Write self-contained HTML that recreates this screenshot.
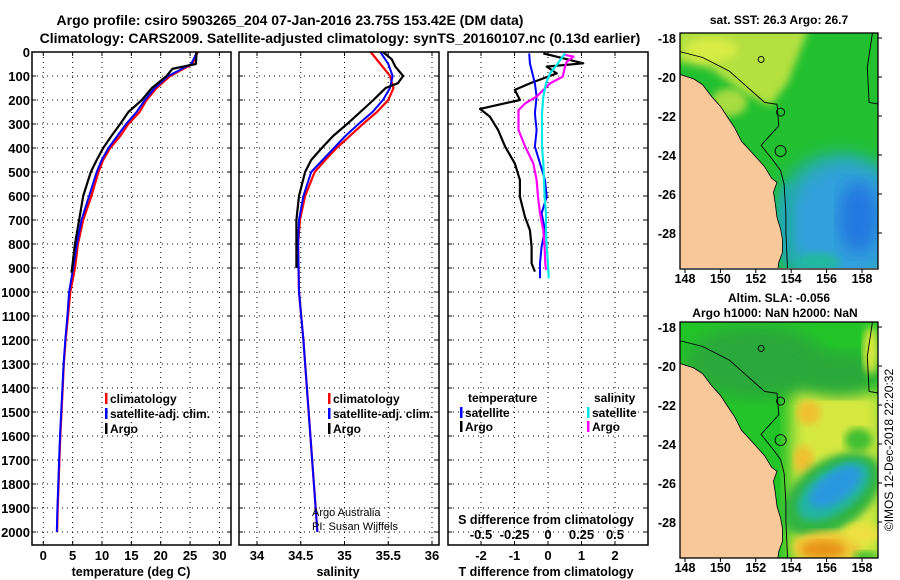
<!DOCTYPE html>
<html><head><meta charset="utf-8"><style>
body{margin:0;background:#fff}
svg{display:block}
text{font-family:"Liberation Sans",Arial,sans-serif;font-weight:bold;fill:#000}
</style></head><body>
<svg id="c" width="900" height="580" viewBox="0 0 900 580" xmlns="http://www.w3.org/2000/svg">
<defs>
<filter id="blur4"><feGaussianBlur stdDeviation="4"/></filter>
<filter id="blur8"><feGaussianBlur stdDeviation="8"/></filter>
<clipPath id="m1clip"><rect x="680" y="33" width="198" height="235"/></clipPath>
<clipPath id="m2clip"><rect x="680" y="322" width="198" height="236"/></clipPath>
</defs>
<text x="290" y="25" text-anchor="middle" font-size="14">Argo profile: csiro 5903265_204 07-Jan-2016 23.75S 153.42E (DM data)</text>
<text x="340" y="43" text-anchor="middle" font-size="14">Climatology: CARS2009. Satellite-adjusted climatology: synTS_20160107.nc (0.13d earlier)</text>
<g id="grid"></g>
<g id="series"></g>
<g id="frames"></g>
<g id="maps"></g>
</svg>
<script>
// ---------- data ----------
const depthTicks=[0,100,200,300,400,500,600,700,800,900,1000,1100,1200,1300,1400,1500,1600,1700,1800,1900,2000];
const tempTicks=[0,5,10,15,20,25,30];
const salTicks=[34,34.5,35,35.5,36];
const salTickLabels=["34","34.5","35","35.5","36"];
const tdiffTicks=[-2,-1,0,1,2];
const sdiffTicks=[-0.5,-0.25,0,0.25,0.5];
const sdiffLabels=["-0.5","-0.25","0","0.25","0.5"];

const argoTDepth=[0,50,70,100,150,200,250,300,350,400,450,500,600,700,800,900,920];
const argoT=[26.1,26,22,21,18.5,16.8,14.5,13.1,11.6,10.2,9.1,8.1,6.8,6.1,5.4,4.9,4.8];
const climTDepth=[0,50,100,150,200,250,300,350,400,450,500,600,700,800,900,1000,1100,1200,1300,1400,1500,1600,1700,1800,1900,2000];
const climT=[26.3,25.4,21.6,19.3,17.6,16.4,14.5,13.1,11.4,10.2,9.4,8.2,6.8,5.9,5.4,4.6,4.2,3.8,3.5,3.3,3.1,2.9,2.75,2.6,2.45,2.35];
const satT=[26.2,25.2,21.3,19,17.3,15.9,14.1,12.6,11.1,9.95,9.1,7.8,6.5,5.7,5.1,4.4,4.1,3.75,3.45,3.25,3.05,2.85,2.7,2.55,2.4,2.3];

const argoSDepth=[0,30,60,100,130,150,200,250,300,350,400,450,500,600,700,800,900];
const argoS=[35.44,35.54,35.58,35.67,35.61,35.47,35.33,35.18,35.03,34.87,34.74,34.62,34.55,34.48,34.45,34.45,34.45];
const climSDepth=[0,50,100,150,200,250,300,350,400,450,500,600,700,800,1000,1200,1400,1600,1800,2000];
const climS=[35.30,35.41,35.52,35.56,35.50,35.37,35.21,35.06,34.91,34.78,34.66,34.55,34.49,34.47,34.48,34.53,34.57,34.61,34.65,34.69];
const satS=[35.41,35.50,35.55,35.52,35.44,35.32,35.16,35.01,34.88,34.75,34.62,34.53,34.48,34.47,34.48,34.53,34.57,34.61,34.65,34.69];

const dTArgoDepth=[6,12,47,61,89,131,158,200,237,270,325,394,464,533,603,686,742,811,881,915];
const dTArgo=[-0.14,0.05,1.05,-0.04,0.26,-0.54,-0.99,-0.84,-2.03,-1.73,-1.49,-1.28,-0.99,-0.84,-0.84,-0.69,-0.54,-0.49,-0.49,-0.39];
const dTSatDepth=[6,47,131,186,256,325,394,464,533,603,672,742,811,881,943];
const dTSat=[-0.56,-0.54,-0.39,-0.34,-0.39,-0.34,-0.39,-0.24,-0.09,-0.04,-0.19,-0.09,-0.19,-0.24,-0.24];
const dSArgoDepth=[12,19,40,61,103,131,186,214,242,283,325,394,464,533,603,672,742,811,881,908];
const dSArgo=[0.127,0.19,0.14,0.127,0.11,0.015,-0.085,-0.17,-0.22,-0.22,-0.22,-0.17,-0.11,-0.085,-0.075,-0.06,-0.035,-0.025,-0.02,-0.015];
const dSSatDepth=[6,47,89,131,186,256,325,394,464,533,603,672,742,811,881,943];
const dSSat=[0.127,0.075,0.015,-0.015,-0.035,-0.045,-0.045,-0.045,-0.035,-0.03,-0.025,-0.015,-0.015,-0.01,0,0.005];

const mapLatTicks=[-18,-20,-22,-24,-26,-28];
const mapLonTicks=[148,150,152,154,156,158];

// ---------- scales ----------
const Y0=52,Y1=545;
const yD=d=>Y0+d*0.24;
const xT=t=>43.3+t*5.87;
const xS=s=>257+(s-34)*87.5;
const xdT=v=>548+v*33.5;
const xdS=v=>548+v*134;
const mX=lon=>685+(lon-148)*17.7;
const mY1=lat=>38+(-18-lat)*19.5;
const mY2=lat=>327+(-18-lat)*19.5;

const NS="http://www.w3.org/2000/svg";
function mk(tag,attrs,parent,txt){const e=document.createElementNS(NS,tag);for(const k in attrs)e.setAttribute(k,attrs[k]);if(txt!==undefined)e.textContent=txt;(parent||document.getElementById('c')).appendChild(e);return e;}
const G=document.getElementById('grid'),S=document.getElementById('series'),F=document.getElementById('frames'),M=document.getElementById('maps');

const panels=[{x0:32,x1:231,name:'temperature'},{x0:239,x1:439,name:'salinity'},{x0:448,x1:648,name:'difference'}];
const dot={stroke:'#000','stroke-width':1,'stroke-dasharray':'1 4'};
panels.forEach(p=>{
  depthTicks.forEach(d=>{if(d>0){const l=mk('line',Object.assign({x1:p.x0,x2:p.x1,y1:yD(d),y2:yD(d)},dot),G);
  
  }});
});
function vgrid(xs,scale){xs.forEach(v=>{const x=scale(v);const l=mk('line',Object.assign({x1:x,x2:x,y1:Y0,y2:Y1},dot),G);


mk('line',{x1:x,x2:x,y1:Y1,y2:Y1-4,stroke:'#000'},G);mk('line',{x1:x,x2:x,y1:Y0,y2:Y0+4,stroke:'#000'},G);});}
vgrid(tempTicks,xT);vgrid(salTicks,xS);vgrid(tdiffTicks,xdT);

depthTicks.forEach(d=>{const t=mk('text',{x:30,y:yD(d)+5,'text-anchor':'end','font-size':13},G,String(d));


panels.forEach(p=>{mk('line',{x1:p.x0,x2:p.x0+4,y1:yD(d),y2:yD(d),stroke:'#000'},G);mk('line',{x1:p.x1,x2:p.x1-4,y1:yD(d),y2:yD(d),stroke:'#000'},G);});});
tempTicks.forEach(v=>{const t=mk('text',{x:xT(v),y:560,'text-anchor':'middle','font-size':13},G,String(v));

});
salTicks.forEach((v,i)=>{const t=mk('text',{x:xS(v),y:560,'text-anchor':'middle','font-size':13},G,salTickLabels[i]);

});
tdiffTicks.forEach(v=>{const t=mk('text',{x:xdT(v),y:560,'text-anchor':'middle','font-size':13},G,String(v));

});
sdiffTicks.forEach((v,i)=>{const t=mk('text',{x:xdS(v),y:539,'text-anchor':'middle','font-size':13},G,sdiffLabels[i]);

});

function line(depths,vals,sx,color,w,name){const pts=depths.map((d,i)=>sx(vals[i]).toFixed(1)+','+yD(d).toFixed(1)).join(' ');
const l=mk('polyline',{points:pts,fill:'none',stroke:color,'stroke-width':w,'stroke-linejoin':'round'},S);

}
line(climTDepth,climT,xT,'#ff0000',2.2,'temperature-climatology-line');
line(climTDepth,satT,xT,'#0000ff',2,'temperature-satellite-line');
line(argoTDepth,argoT,xT,'#000',2.2,'temperature-argo-line');
line(climSDepth,climS,xS,'#ff0000',2.2,'salinity-climatology-line');
line(climSDepth,satS,xS,'#0000ff',2,'salinity-satellite-line');
line(argoSDepth,argoS,xS,'#000',2.2,'salinity-argo-line');
line(dTArgoDepth,dTArgo,xdT,'#000',2.2,'tdiff-argo-line');
line(dTSatDepth,dTSat,xdT,'#0000ff',2,'tdiff-satellite-line');
line(dSArgoDepth,dSArgo,xdS,'#ff00ff',2.2,'sdiff-argo-line');
line(dSSatDepth,dSSat,xdS,'#00e8e8',2.2,'sdiff-satellite-line');

panels.forEach(p=>{const r=mk('rect',{x:p.x0,y:Y0,width:p.x1-p.x0,height:Y1-Y0,fill:'none',stroke:'#000','stroke-width':1.5},F);

});

function leg(x,y,color,label,name){mk('rect',{x:x,y:y-10,width:2.5,height:11,fill:color},F);
const t=mk('text',{x:x+5,y:y,'font-size':12},F,label);

}
leg(105,403,'#ff0000','climatology','legend-entry-climatology');
leg(105,418,'#0000ff','satellite-adj. clim.','legend-entry-satellite');
leg(105,433,'#000','Argo','legend-entry-argo');
leg(328,403,'#ff0000','climatology','legend-entry-climatology-2');
leg(328,418,'#0000ff','satellite-adj. clim.','legend-entry-satellite-2');
leg(328,433,'#000','Argo','legend-entry-argo-2');
mk('text',{x:468,y:402,'font-size':12},F,'temperature');
leg(460,417,'#0000ff','satellite','legend-entry-t-satellite');
leg(460,431,'#000','Argo','legend-entry-t-argo');
mk('text',{x:594,y:402,'font-size':12},F,'salinity');
leg(587,417,'#00e8e8','satellite','legend-entry-s-satellite');
leg(587,431,'#ff00ff','Argo','legend-entry-s-argo');
mk('text',{x:546,y:524,'text-anchor':'middle','font-size':12.5},F,'S difference from climatology');
mk('text',{x:312,y:516,'font-size':11,style:'font-weight:normal'},F,'Argo Australia');
mk('text',{x:312,y:530,'font-size':11,style:'font-weight:normal'},F,'PI: Susan Wijffels');
mk('text',{x:131,y:576,'text-anchor':'middle','font-size':12.5},F,'temperature (deg C)');
mk('text',{x:338,y:576,'text-anchor':'middle','font-size':12.5},F,'salinity');
mk('text',{x:546,y:576,'text-anchor':'middle','font-size':12.5},F,'T difference from climatology');

// ---------- maps ----------
const land=[[147.5,-19.8],[148.5,-20.1],[149,-20.4],[149.5,-21],[150,-21.5],[150.5,-22.2],[150.8,-22.6],[151.2,-23.3],[151.8,-23.9],[152.5,-24.6],[152.9,-25.2],[153.2,-25.4],[153,-25.9],[153.1,-26.5],[153.2,-27.2],[153.4,-27.8],[153.5,-28.3],[153.5,-29],[153.3,-29.5],[153.2,-30.2],[147.5,-30.2]];
const shelf=[[147.7,-18.7],[149,-19],[150.5,-19.7],[151.5,-20.5],[152.5,-21.3],[153.2,-21.4],[153.3,-22.5],[152.6,-23.2],[152.3,-23.5],[153,-24.3],[153.4,-24.8],[153.6,-25.5],[153.7,-27],[153.7,-28],[153.8,-30]];
const shelfR=[[158.6,-17.7],[158.3,-19.5],[158.4,-21.3],[159,-21.4]];
const sstYellow=[[147.5,-17.5],[155,-17.5],[153.8,-20.3],[152.8,-21.5],[151.3,-20.8],[149.5,-19.6],[147.5,-19.2]];
const slaYellow=[[154,-21],[159.2,-21.3],[159.2,-30.2],[153.9,-30.2]];
function pts(arr,my){return arr.map(p=>mX(p[0]).toFixed(1)+','+my(p[1]).toFixed(1)).join(' ');}
function drawMap(my,clip,y0,kind){
  const g=mk('g',{'clip-path':'url(#'+clip+')'},M);
  
  
  if(kind==='sst'){
    mk('rect',{x:680,y:y0,width:198,height:236,fill:'#22c030'},g);
    mk('polygon',{points:pts(sstYellow,my),fill:'#b4e040',filter:'url(#blur4)'},g);
    mk('ellipse',{cx:mX(149.5),cy:my(-18.6),rx:26,ry:12,fill:'#d8ec44',filter:'url(#blur4)'},g);
    mk('ellipse',{cx:mX(150.5),cy:my(-21.3),rx:18,ry:14,fill:'#a8dc40',filter:'url(#blur4)'},g);
    mk('ellipse',{cx:mX(156.8),cy:my(-27.6),rx:70,ry:74,fill:'#22b09a',filter:'url(#blur8)'},g);
    mk('ellipse',{cx:mX(157),cy:my(-27.5),rx:56,ry:60,fill:'#30a0dc',filter:'url(#blur8)'},g);
    mk('ellipse',{cx:mX(157.8),cy:my(-27.2),rx:20,ry:36,fill:'#2478e0',filter:'url(#blur8)'},g);
    mk('ellipse',{cx:mX(155.5),cy:my(-29.5),rx:22,ry:10,fill:'#22b8a0',filter:'url(#blur4)'},g);
    mk('ellipse',{cx:mX(153.8),cy:my(-27.5),rx:7,ry:40,fill:'#22a8b0',filter:'url(#blur4)'},g);
  } else {
    mk('rect',{x:680,y:y0,width:198,height:236,fill:'#22c428'},g);
    mk('polygon',{points:pts(slaYellow,my),fill:'#d6e840',filter:'url(#blur8)'},g);
    mk('ellipse',{cx:mX(152),cy:my(-19.8),rx:70,ry:36,fill:'#2aa83a',filter:'url(#blur8)'},g);
    mk('ellipse',{cx:mX(156.6),cy:my(-20.4),rx:40,ry:22,fill:'#2aa83a',filter:'url(#blur8)'},g);
    mk('ellipse',{cx:mX(158.5),cy:my(-19.2),rx:8,ry:24,fill:'#d8e840',filter:'url(#blur4)'},g);
    mk('ellipse',{cx:mX(157.8),cy:my(-23.8),rx:14,ry:12,fill:'#40c030',filter:'url(#blur4)'},g);
    mk('ellipse',{cx:mX(155),cy:my(-22.4),rx:12,ry:12,fill:'#f0c030',filter:'url(#blur4)'},g);
    mk('ellipse',{cx:mX(154.7),cy:my(-24.8),rx:10,ry:14,fill:'#f0c030',filter:'url(#blur4)'},g);
    mk('ellipse',{cx:mX(156.3),cy:my(-26.6),rx:56,ry:34,fill:'#30b440',filter:'url(#blur4)',transform:'rotate(-35 '+mX(156.3)+' '+my(-26.6)+')'},g);
    mk('ellipse',{cx:mX(156.4),cy:my(-26.4),rx:42,ry:22,fill:'#24b4a0',filter:'url(#blur4)',transform:'rotate(-35 '+mX(156.4)+' '+my(-26.4)+')'},g);
    mk('ellipse',{cx:mX(156.5),cy:my(-26.2),rx:30,ry:14,fill:'#2c98e0',filter:'url(#blur4)',transform:'rotate(-35 '+mX(156.5)+' '+my(-26.2)+')'},g);
    mk('ellipse',{cx:mX(156),cy:my(-29.3),rx:34,ry:16,fill:'#f0c838',filter:'url(#blur4)'},g);
    mk('ellipse',{cx:mX(155.8),cy:my(-29.4),rx:22,ry:9,fill:'#e89418',filter:'url(#blur4)'},g);
    mk('ellipse',{cx:mX(158),cy:my(-28.6),rx:18,ry:10,fill:'#eee040',filter:'url(#blur4)'},g);
    mk('ellipse',{cx:mX(158.2),cy:my(-29.8),rx:12,ry:6,fill:'#40c030',filter:'url(#blur4)'},g);
  }
  const l=mk('polygon',{points:pts(land,my),fill:'#f8c89a',stroke:'#000','stroke-width':0.8},g);
  
  
  mk('polyline',{points:pts(shelf,my),fill:'none',stroke:'#000','stroke-width':0.9},g);
  mk('polyline',{points:pts(shelfR,my),fill:'none',stroke:'#000','stroke-width':0.9},g);
  mk('circle',{cx:mX(152.3),cy:my(-19.1),r:3,fill:'none',stroke:'#000','stroke-width':0.9},g);
  mk('circle',{cx:mX(153.4),cy:my(-21.8),r:4,fill:'none',stroke:'#000','stroke-width':0.9},g);
  mk('circle',{cx:mX(153.4),cy:my(-23.8),r:5.5,fill:'none',stroke:'#000','stroke-width':0.9},g);
  const fr=mk('rect',{x:680,y:y0,width:198,height:236,fill:'none',stroke:'#000','stroke-width':1.3},M);
  
  
  mapLatTicks.forEach(la=>{const t=mk('text',{x:676,y:my(la)+5,'text-anchor':'end','font-size':12.5},M,String(la));
  
  
  mk('line',{x1:878,x2:882,y1:my(la),y2:my(la),stroke:'#000'},M);});
  mapLonTicks.forEach(lo=>{const t=mk('text',{x:mX(lo),y:y0+250,'text-anchor':'middle','font-size':12.5},M,String(lo));
  
  
  mk('line',{x1:mX(lo),x2:mX(lo),y1:y0+236,y2:y0+240,stroke:'#000'},M);});
}
drawMap(mY1,'m1clip',33,'sst');
drawMap(mY2,'m2clip',322,'sla');
mk('text',{x:779,y:24,'text-anchor':'middle','font-size':12},M,'sat. SST: 26.3 Argo: 26.7');
mk('text',{x:779,y:302,'text-anchor':'middle','font-size':12},M,'Altim. SLA: -0.056');
mk('text',{x:775,y:317,'text-anchor':'middle','font-size':12},M,'Argo h1000: NaN h2000: NaN');
mk('text',{x:893,y:450,'text-anchor':'middle','font-size':12,style:'font-weight:normal',transform:'rotate(-90 893 450)'},M,'©IMOS 12-Dec-2018 22:20:32');
</script>
</body></html>
